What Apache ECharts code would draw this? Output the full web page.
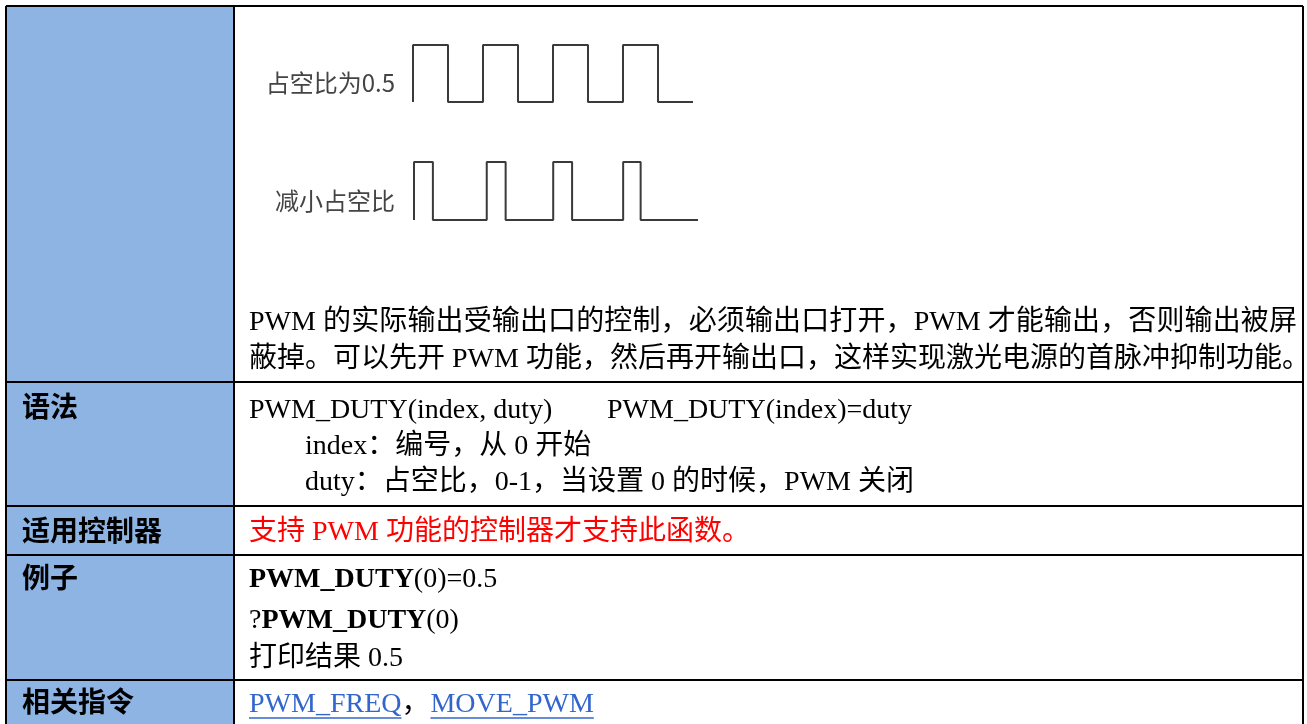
<!DOCTYPE html>
<html><head><meta charset="utf-8">
<script src="https://cdn.jsdelivr.net/npm/echarts@6/dist/echarts.min.js"></script>
<style>html,body{margin:0;padding:0;background:#fff}#c{width:1307px;height:724px}</style>
</head><body><div id="c"></div>
<script>
// ---------- content ----------
const rowLabels = ['', '语法', '适用控制器', '例子', '相关指令'];
const descLines = [
  'PWM 的实际输出受输出口的控制，必须输出口打开，PWM 才能输出，否则输出被屏',
  '蔽掉。可以先开 PWM 功能，然后再开输出口，这样实现激光电源的首脉冲抑制功能。'
];
const syntaxMain = ['PWM_DUTY(index, duty)', 'PWM_DUTY(index)=duty'];
const syntaxParams = ['index：编号，从 0 开始', 'duty：占空比，0-1，当设置 0 的时候，PWM 关闭'];
const controllerText = '支持 PWM 功能的控制器才支持此函数。';
const exampleLines = [
  [['b', 'PWM_DUTY'], ['n', '(0)=0.5']],
  [['n', '?'], ['b', 'PWM_DUTY'], ['n', '(0)']],
  [['n', '打印结果 0.5']]
];
const relatedLinks = ['PWM_FREQ', 'MOVE_PWM'];
const waveLabels = ['占空比为0.5', '减小占空比'];
// waveform edges, in periods
const wave1Rise = [0, 1, 2, 3];
const wave1Fall = [0.5, 1.5, 2.5, 3.5];
const wave1End = 4;
const wave2Rise = [0, 1.04, 1.99, 2.99];
const wave2Fall = [0.27, 1.31, 2.26, 3.24];
const wave2End = 4.06;

// ---------- layout ----------
const L = 6, R = 1303, T = 6, DIV = 234;
const rowB = [6, 382, 506, 555, 680, 760];
const TX = 249;
const DY = 2;
const serif = '"Liberation Serif", "Times New Roman", "Noto Sans CJK SC", serif';
const FS = 28;
const fontN = FS + 'px ' + serif;
const fontB = 'bold ' + FS + 'px ' + serif;
const labelFont = 'bold 28px "Noto Sans CJK SC", sans-serif';

const mctx = document.createElement('canvas').getContext('2d');
function measure(t, font) { mctx.font = font; return mctx.measureText(t).width; }

function txt(x, y, text, font, fill, align) {
  return { type: 'text', silent: true, z: 10, x: x, y: y,
    style: { text: text, font: font, fill: fill || '#000', align: align || 'left', textAlign: align || 'left',
      verticalAlign: 'middle', textVerticalAlign: 'middle' } };
}
function tokens(s) {
  const out = []; let buf = '';
  for (const ch of s) {
    if (/[\u3000-\u9fff\uff00-\uffef]/.test(ch)) { if (buf) { out.push(buf); buf = ''; } out.push(ch); }
    else buf += ch;
  }
  if (buf) out.push(buf);
  return out;
}
function justify(s, x0, x1, y, font, fill) {
  const tk = tokens(s);
  const w = tk.map(t => measure(t, font));
  const total = w.reduce((a, b) => a + b, 0);
  const gap = tk.length > 1 ? Math.max(0, (x1 - x0 - total) / (tk.length - 1)) : 0;
  const els = []; let x = x0;
  tk.forEach((t, i) => { els.push(txt(x, y, t, font, fill)); x += w[i] + gap; });
  return els;
}
function runs(parts, x, y) {
  const els = [];
  parts.forEach(p => {
    const f = p[0] === 'b' ? fontB : fontN;
    els.push(txt(x, y, p[1], f, '#000'));
    x += measure(p[1], f);
  });
  return els;
}

const g = [];
// left column fill
g.push({ type: 'rect', silent: true, z: 1, shape: { x: L, y: T, width: DIV - L, height: 760 }, style: { fill: '#8EB4E3' } });
// borders
const line = (x1, y1, x2, y2) => ({ type: 'line', silent: true, z: 5, shape: { x1, y1, x2, y2 }, style: { stroke: '#000', lineWidth: 2 } });
g.push(line(L, T, R, T));
g.push(line(L, T, L, 760));
g.push(line(R, T, R, 760));
g.push(line(DIV, T, DIV, 760));
rowB.slice(1, 5).forEach(y => g.push(line(L, y, R, y)));

// row labels
const labelY = [0, 406, 530, 577, 701];
rowLabels.forEach((t, i) => { if (t) g.push(txt(22, labelY[i], t, labelFont, '#000')); });

// row 1 description (justified)
g.push(...justify(descLines[0], TX, 1297, 321 + DY, fontN, '#000'));
g.push(...justify(descLines[1], TX, 1297, 358 + DY, fontN, '#000'));

// syntax row
g.push(txt(TX, 409 + DY, syntaxMain[0], fontN));
g.push(txt(607, 409 + DY, syntaxMain[1], fontN));
g.push(txt(305, 445 + DY, syntaxParams[0], fontN));
g.push(txt(305, 481 + DY, syntaxParams[1], fontN));

// controller row
g.push(txt(TX, 531 + DY, controllerText, fontN, '#FF0000'));

// examples
const exY = [578, 619, 657];
exampleLines.forEach((p, i) => g.push(...runs(p, TX, exY[i] + DY)));

// related links
(function () {
  let x = TX; const y = 703 + DY; const blue = '#3366CC';
  relatedLinks.forEach((t, i) => {
    const w = measure(t, fontN);
    g.push(txt(x, y, t, fontN, blue));
    g.push({ type: 'line', silent: true, z: 10, shape: { x1: x, y1: y + 13, x2: x + w, y2: y + 13 }, style: { stroke: blue, lineWidth: 1.5 } });
    x += w;
    if (i < relatedLinks.length - 1) { g.push(txt(x, y, '，', fontN, '#000')); x += measure('，', fontN) + 1; }
  });
})();

// waveform labels
const waveFont = '24px "Noto Sans CJK SC", sans-serif';
g.push(txt(395, 83, waveLabels[0], waveFont, '#444', 'right'));
g.push(txt(395, 201, waveLabels[1], waveFont, '#444', 'right'));

function waveData(rise, fall, end) {
  const d = [];
  rise.forEach((r, i) => { d.push([r, 0], [r, 1], [fall[i], 1], [fall[i], 0]); });
  d.push([end, 0]);
  return d;
}

const chart = echarts.init(document.getElementById('c'), null, { renderer: 'canvas' });
const axisOff = { show: false };
chart.setOption({
  backgroundColor: '#fff',
  animation: false,
  grid: [
    { left: 413, top: 45, width: 280, height: 57 },
    { left: 414, top: 162, width: 284, height: 58 }
  ],
  xAxis: [
    Object.assign({ type: 'value', gridIndex: 0, min: 0, max: wave1End }, axisOff),
    Object.assign({ type: 'value', gridIndex: 1, min: 0, max: wave2End }, axisOff)
  ],
  yAxis: [
    Object.assign({ type: 'value', gridIndex: 0, min: 0, max: 1 }, axisOff),
    Object.assign({ type: 'value', gridIndex: 1, min: 0, max: 1 }, axisOff)
  ],
  series: [
    { type: 'line', xAxisIndex: 0, yAxisIndex: 0, data: waveData(wave1Rise, wave1Fall, wave1End), showSymbol: false, lineStyle: { color: '#3a3a3a', width: 2 }, silent: true },
    { type: 'line', xAxisIndex: 1, yAxisIndex: 1, data: waveData(wave2Rise, wave2Fall, wave2End), showSymbol: false, lineStyle: { color: '#3a3a3a', width: 2 }, silent: true }
  ],
  graphic: g
});
</script>
</body></html>
